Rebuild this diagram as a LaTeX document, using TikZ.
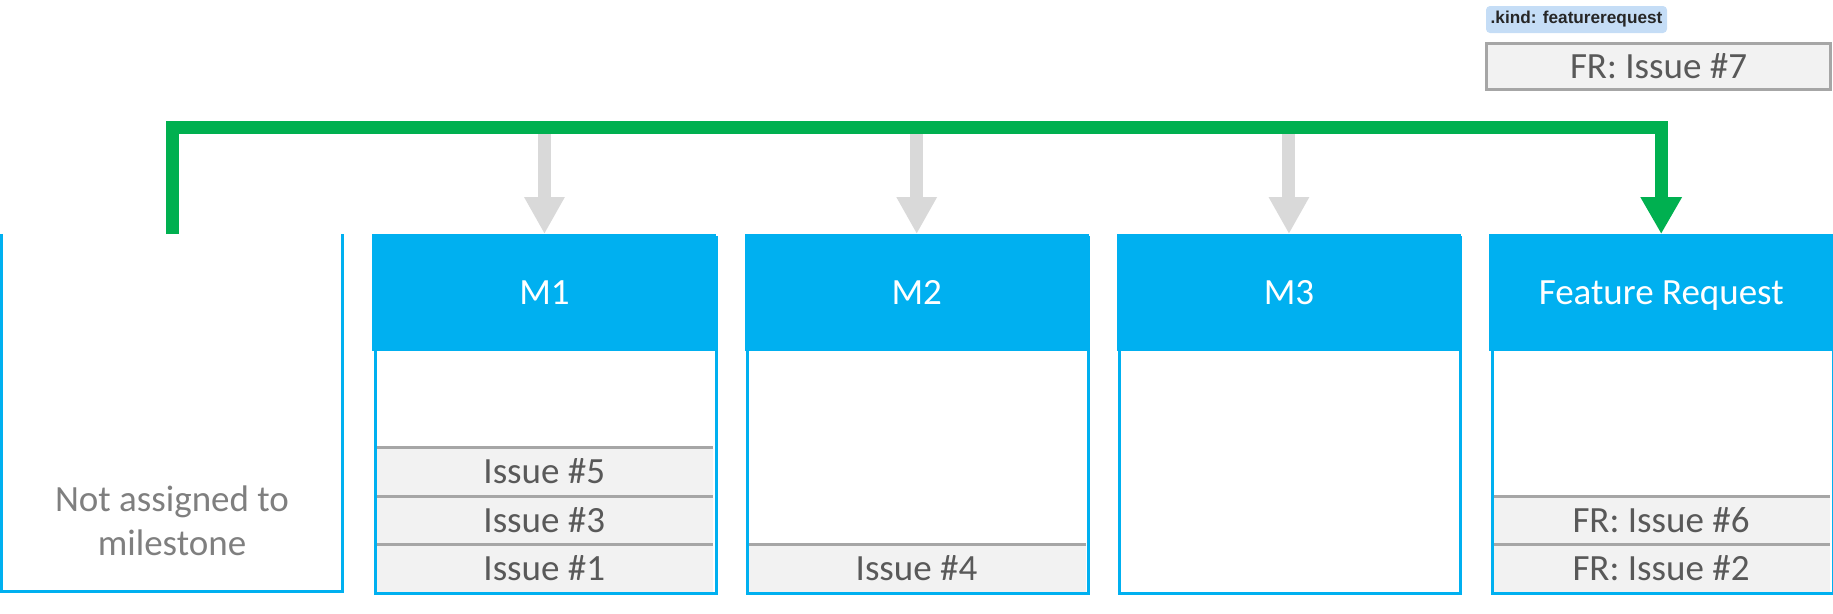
\documentclass[tikz,border=0pt]{standalone}
\usepackage{fontspec}
\setmainfont{Carlito}
\newfontfamily\kindfont{Liberation Sans}
\usetikzlibrary{arrows.meta}
\definecolor{msblue}{HTML}{00B0F0}
\definecolor{msgreen}{HTML}{00B050}
\definecolor{arrowgrey}{HTML}{D9D9D9}
\definecolor{sepgrey}{HTML}{A6A6A6}
\definecolor{rowfill}{HTML}{F2F2F2}
\definecolor{rowtext}{HTML}{595959}
\definecolor{natext}{HTML}{7F7F7F}
\definecolor{kindbg}{HTML}{C5DDF6}
\definecolor{kindtext}{HTML}{262626}
\tikzset{
  hdr/.style={fill=msblue, text=white, minimum width=344pt, minimum height=117pt,
    inner sep=0pt, anchor=north west, font=\fontsize{37}{44}\selectfont,
    text height=23.8pt, text depth=0pt},
  colframe/.style={draw=msblue, line width=3pt, minimum width=341pt, minimum height=356pt,
    anchor=north west, inner sep=0pt},
  naframe/.style={minimum width=341pt, minimum height=357.5pt, anchor=north west, inner sep=0pt},
  bluebar/.style={draw=msblue, line width=3pt},
  issue/.style={fill=rowfill, minimum width=338pt, minimum height=48.5pt, inner sep=0pt,
    anchor=north, text=rowtext, font=\fontsize{37}{44}\selectfont,
    text height=23.8pt, text depth=0pt},
  sep/.style={draw=sepgrey, line width=3pt},
  greyarrow/.style={draw=arrowgrey, line width=13pt, -{Triangle[length=37pt,width=38pt]}},
  greenarrow/.style={draw=msgreen, line width=13pt, -{Triangle[length=37pt,width=39pt]}},
  kindlabel/.style={fill=kindbg, rounded corners=4pt, minimum width=181pt, minimum height=27pt,
    inner sep=0pt, text=kindtext, font=\kindfont\bfseries\fontsize{17.2}{20}\selectfont},
  frcard/.style={fill=rowfill, draw=sepgrey, line width=3pt, minimum width=344pt,
    minimum height=46pt, inner sep=0pt, text=rowtext, font=\fontsize{37}{44}\selectfont,
    text height=23.8pt, text depth=0pt},
  natextstyle/.style={text=natext, align=center, font=\fontsize{37}{44}\selectfont, inner sep=0pt}
}
\begin{document}
\begin{tikzpicture}[x=1pt,y=-1pt]
\useasboundingbox (0,0) rectangle (1833,613);
\coordinate (bus) at (0,127);

% top card
\node[kindlabel] (kind) at (1576.5,19.5) {.kind: featurerequest};
\node[frcard] (fr7) at (1658.5,66.5) {FR: Issue \#7};

% column 0: not assigned
\node[naframe] (na) at (1.5,234) {};
\draw[bluebar] (na.north west) -- (na.south west) -- (na.south east) -- (na.north east);
\node[natextstyle] (nalabel) at (172,521) {Not assigned to\\milestone};

% column 1: M1
\node[issue] (m1a) at (544.25,447.5) {Issue \#5};
\node[issue] (m1b) at (544.25,496) {Issue \#3};
\node[issue] (m1c) at (544.25,544.5) {Issue \#1};
\draw[sep] (m1a.north west) -- (m1a.north east);
\draw[sep] (m1b.north west) -- (m1b.north east);
\draw[sep] (m1c.north west) -- (m1c.north east);
\node[colframe] (m1) at (373.75,235.5) {};
\node[hdr] (m1h) at (372.25,234) {M1};

% column 2: M2
\node[issue] (m2a) at (916.5,544.5) {Issue \#4};
\draw[sep] (m2a.north west) -- (m2a.north east);
\node[colframe] (m2) at (746,235.5) {};
\node[hdr] (m2h) at (744.5,234) {M2};

% column 3: M3
\node[colframe] (m3) at (1118.25,235.5) {};
\node[hdr] (m3h) at (1116.75,234) {M3};

% column 4: Feature Request
\node[issue] (fra) at (1661,496) {FR: Issue \#6};
\node[issue] (frb) at (1661,544.5) {FR: Issue \#2};
\draw[sep] (fra.north west) -- (fra.north east);
\draw[sep] (frb.north west) -- (frb.north east);
\node[colframe] (fr) at (1490.5,235.5) {};
\node[hdr] (frh) at (1489,234) {Feature Request};

% grey arrows
\draw[greyarrow] (m1h.north |- bus) -- (m1h.north);
\draw[greyarrow] (m2h.north |- bus) -- (m2h.north);
\draw[greyarrow] (m3h.north |- bus) -- (m3h.north);

% green connector
\draw[greenarrow] (na.north) -- (na.north |- bus) -| (frh.north);
\end{tikzpicture}
\end{document}
